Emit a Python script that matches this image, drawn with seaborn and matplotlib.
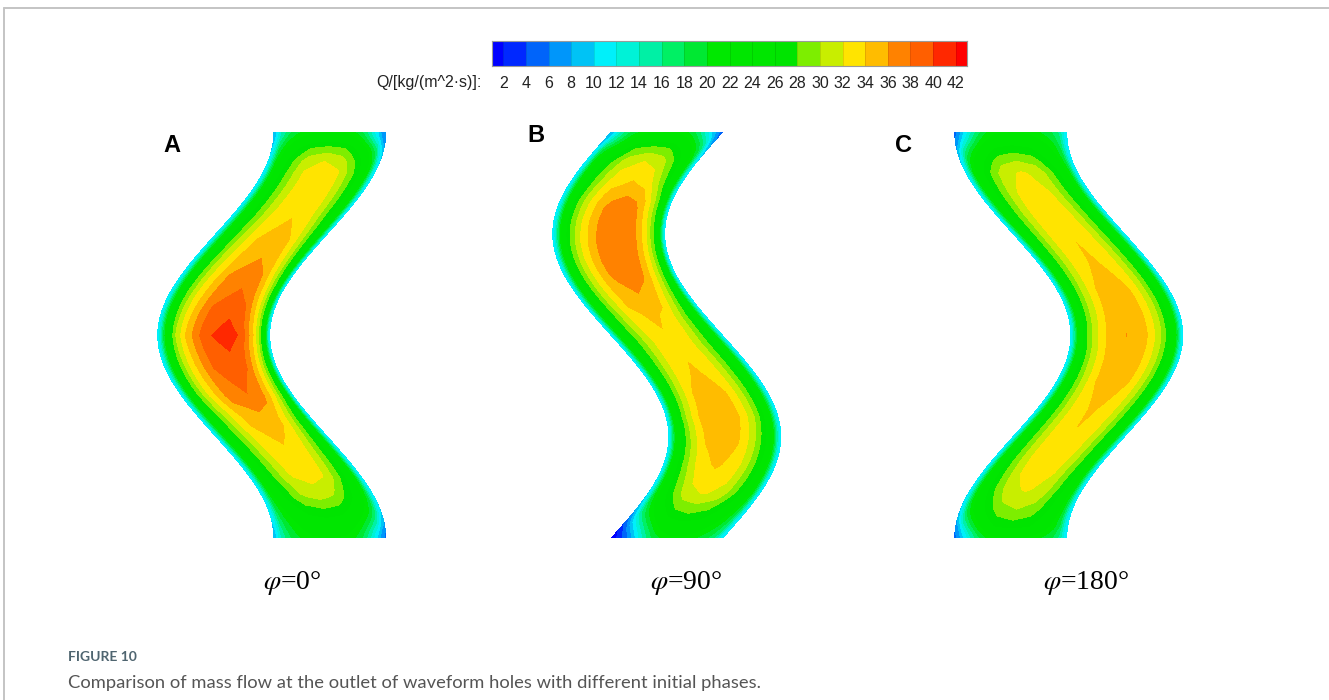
import numpy as np
import matplotlib
matplotlib.use("Agg")
import matplotlib.pyplot as plt
from matplotlib.colors import ListedColormap, BoundaryNorm
from matplotlib.lines import Line2D
import seaborn as sns

# ---------------- data ----------------
level_labels = [2, 4, 6, 8, 10, 12, 14, 16, 18, 20, 22, 24, 26, 28, 30, 32, 34, 36, 38, 40, 42]
level_colors = [
    (0, 0, 255), (0, 40, 255), (0, 100, 250), (0, 150, 250), (0, 195, 245),
    (0, 240, 250), (0, 242, 215), (0, 240, 165), (0, 240, 100), (0, 232, 50),
    (0, 232, 0), (0, 230, 0), (0, 230, 0), (0, 228, 0), (125, 238, 0),
    (200, 238, 0), (255, 228, 0), (255, 188, 0), (255, 130, 0), (255, 95, 0),
    (255, 40, 0), (255, 0, 0),
]
legend_title = "Q/[kg/(m^2·s)]:"

panel_letters = ["A", "B", "C"]
phase_deg = [0, 90, 180]
phase_labels = [r"$\varphi$=0°", r"$\varphi$=90°", r"$\varphi$=180°"]

# core (maximum) mass flow along the hole, t = 0 top ... 1 bottom
A_t = [0.0, 0.04, 0.07, 0.10, 0.20, 0.29, 0.38, 0.45, 0.50, 0.55, 0.65, 0.70, 0.78, 0.85, 0.90, 0.95, 1.0]
A_q = [22, 29, 32, 33.2, 33.8, 35.5, 37.9, 39.8, 41, 39.8, 37.9, 35.5, 33.8, 32.8, 30.5, 26, 22]
A_s = [0, 0, 0, 0.05, 0.1, 0.18, 0.24, 0.25, 0.25, 0.25, 0.2, 0.15, 0.08, 0.05, 0, 0, 0]

B_t = [0.0, 0.04, 0.07, 0.13, 0.17, 0.22, 0.27, 0.32, 0.37, 0.45, 0.52, 0.59, 0.70, 0.82, 0.89, 0.94, 1.0]
B_q = [22, 29, 32, 34.5, 36.8, 37.7, 38.0, 37.7, 36.8, 34.5, 33.5, 34.3, 35.9, 34.3, 32.2, 28, 22]
B_s = [0, 0, 0.05, 0.12, 0.18, 0.2, 0.2, 0.18, 0.15, 0.05, 0, -0.05, -0.08, -0.05, 0, 0, 0]

C_t = [0.0, 0.04, 0.07, 0.10, 0.20, 0.32, 0.42, 0.50, 0.58, 0.68, 0.80, 0.88, 0.93, 0.97, 1.0]
C_q = [22, 27, 30, 32.3, 33.6, 34.3, 35.4, 36.05, 35.4, 34.3, 33.6, 32.3, 30, 27, 22]
C_s = [0, 0, 0, 0, 0, 0, 0, 0, 0, 0, 0, 0, 0, 0, 0]

wall_q = 10.0
cross_d = [0.0, 0.3, 0.45, 0.6, 0.75, 0.86, 0.92, 0.96, 1.0]
cross_frac = [1.0, 0.96, 0.88, 0.78, 0.64, 0.46, 0.24, 0.09, 0.0]

# corner reductions [top-left, top-right, bottom-left, bottom-right] (fraction) and radii (px)
A_drop = [0.15, 0.42, 0.12, 0.45]
B_drop = [0.2, 0.5, 0.88, 0.0]
C_drop = [0.45, 0.0, 0.45, 0.0]
corner_r = [[14, 18, 14, 18], [16, 22, 32, 12], [20, 12, 20, 12]]

# ---------------- layout (pixels) ----------------
W, H = 1329, 700
top_x = [273, 610, 954]
amp = 58
hole_w = 113
y_top, y_bot = 132, 538
panel_box = [(153, 391), (549, 787), (950, 1187)]

sns.set_theme(style="white")
plt.rcParams["font.family"] = ["Liberation Sans", "DejaVu Sans"]
plt.rcParams["mathtext.fontset"] = "stix"

fig = plt.figure(figsize=(W / 100, H / 100), dpi=100)
fig.patch.set_facecolor("white")


def add_ax(x0, y0, x1, y1):
    return fig.add_axes([x0 / W, 1 - y1 / H, (x1 - x0) / W, (y1 - y0) / H])


cmap = ListedColormap([tuple(c / 255 for c in col) for col in level_colors])
bounds = [-100] + level_labels + [100]
norm = BoundaryNorm(bounds, cmap.N)

panel_data = [(A_t, A_q, A_s, A_drop), (B_t, B_q, B_s, B_drop), (C_t, C_q, C_s, C_drop)]
res = 0.5
for i, (tk, qk, sk, drops) in enumerate(panel_data):
    xa, xb = panel_box[i]
    xs = np.arange(xa, xb, res) + res / 2
    ys = np.arange(y_top, y_bot, res) + res / 2
    X, Y = np.meshgrid(xs, ys)
    t = (Y - y_top) / (y_bot - y_top)
    ph = np.deg2rad(phase_deg[i])
    xl = top_x[i] + amp * (np.cos(2 * np.pi * t + ph) - np.cos(ph))
    u = (X - xl) / hole_w * 2 - 1
    inside = (u >= -1) & (u <= 1)
    qc = np.interp(t, tk, qk)
    u0 = np.interp(t, tk, sk)
    d = np.where(u >= u0, (u - u0) / (1 - u0), (u0 - u) / (1 + u0))
    g = np.interp(np.clip(d, 0, 1), cross_d, cross_frac)
    Q = wall_q + (qc - wall_q) * g
    x0c = top_x[i]
    corners = [(x0c, y_top), (x0c + hole_w, y_top), (x0c, y_bot), (x0c + hole_w, y_bot)]
    for (cx, cy), f, r in zip(corners, drops, corner_r[i]):
        Q = Q * (1 - f * np.exp(-((X - cx) ** 2 + (Y - cy) ** 2) / r ** 2))
    ax = add_ax(xa, y_top, xb, y_bot)
    sns.heatmap(Q, mask=~inside, cmap=cmap, norm=norm, cbar=False,
                xticklabels=False, yticklabels=False, ax=ax, rasterized=True)
    ax.axis("off")

# ---------------- legend bar ----------------
bar_vals = [1] + [v + 1 for v in level_labels[:-1] for _ in range(2)] + [43]
cax = add_ax(492, 41, 967, 66)
sns.heatmap(np.array([bar_vals], dtype=float), cmap=cmap, norm=norm, cbar=False,
            xticklabels=False, yticklabels=False, ax=cax)
for k in range(1, len(bar_vals), 2):
    cax.axvline(k, color=(0, 0, 0, 0.12), lw=0.6)
for sp in cax.spines.values():
    sp.set_visible(True)
    sp.set_color("#9a9a9a")
    sp.set_linewidth(0.8)

cell = (967 - 492) / len(bar_vals)
for k, lab in enumerate(level_labels):
    x = 492 + cell * (1 + 2 * k)
    fig.text(x / W, 1 - 83 / H, str(lab), ha="center", va="center", fontsize=11.5, color="#222222")
fig.text(482 / W, 1 - 83 / H, legend_title, ha="right", va="center", fontsize=11.5, color="#222222")

# ---------------- panel letters and phase labels ----------------
letter_pos = [(172, 145), (536, 135), (903, 145)]
for (lx, ly), lt in zip(letter_pos, panel_letters):
    fig.text(lx / W, 1 - ly / H, lt, ha="center", va="center", fontsize=17, fontweight="bold", color="black")
phase_pos = [(292, 583), (686, 583), (1086, 583)]
for (px, py), lab in zip(phase_pos, phase_labels):
    fig.text(px / W, 1 - py / H, lab, ha="center", va="center", fontsize=20,
             family="Liberation Serif", color="black")

# ---------------- caption ----------------
fig.text(68 / W, 1 - 657 / H, "FIGURE 10", ha="left", va="center", fontsize=10,
         color="#4f6570", family="Lato", fontweight="bold")
fig.text(68 / W, 1 - 683 / H, "Comparison of mass flow at the outlet of waveform holes with different initial phases.",
         ha="left", va="center", fontsize=13.2, color="#555555", family="Lato")

# frame lines
fig.add_artist(Line2D([3.5 / W, 1], [1 - 7.5 / H, 1 - 7.5 / H], color="#c4c4c4", lw=1.4, transform=fig.transFigure))
fig.add_artist(Line2D([3.5 / W, 3.5 / W], [0, 1 - 7.5 / H], color="#c4c4c4", lw=1.4, transform=fig.transFigure))

fig.savefig("out.png", dpi=100, facecolor="white")
